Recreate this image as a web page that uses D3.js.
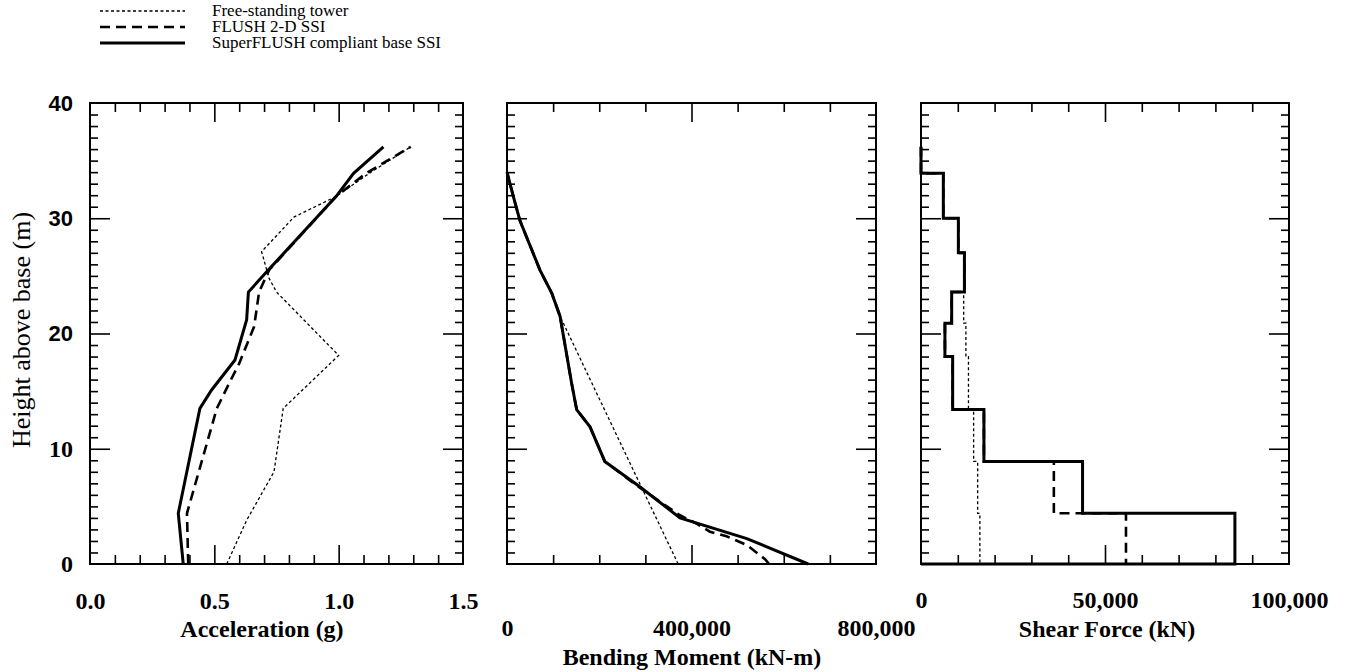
<!DOCTYPE html>
<meta charset="utf-8">
<style>
body { margin: 0; background: #fff; }
text { font-family: "Liberation Serif", "Times New Roman", serif; fill: #000; }
.frame { fill: none; stroke: #000; stroke-width: 2; }
.tick line { stroke: #000; stroke-width: 1.6; }
.domain { display: none; }
.ticklab text { font-size: 24px; font-weight: bold; }
.title { font-size: 24px; font-weight: bold; text-anchor: middle; }
.legend text { font-size: 17px; }
.free { fill: none; stroke: #000; stroke-width: 1.3; stroke-dasharray: 3,2.5; }
.flush { fill: none; stroke: #000; stroke-width: 2.6; stroke-dasharray: 10,6; }
.super { fill: none; stroke: #000; stroke-width: 3; }
</style>
<body>
<script src="https://cdnjs.cloudflare.com/ajax/libs/d3/7.8.5/d3.min.js"></script>
<script>
// acceleration profiles (height m, acceleration g)
var accSuperH = [0, 4.4, 13.5, 15.1, 17.7, 21.2, 23.6, 25.5, 31.9, 33.9, 36.2];
var accSuper  = [0.375, 0.355, 0.442, 0.489, 0.583, 0.630, 0.637, 0.717, 0.990, 1.06, 1.18];
var accFlushH = [0, 4.4, 8.2, 13.5, 15.7, 17.4, 20.6, 23.6, 25.5, 31.9, 33.9, 36.2];
var accFlush  = [0.395, 0.39, 0.44, 0.51, 0.56, 0.60, 0.66, 0.68, 0.72, 0.99, 1.11, 1.29];
var accFreeH  = [0, 3.8, 8.0, 13.5, 18.1, 23.6, 24.8, 27.1, 30.1, 31.9, 34.0, 36.2];
var accFree   = [0.55, 0.63, 0.74, 0.777, 1.0, 0.75, 0.72, 0.69, 0.82, 0.99, 1.13, 1.29];

// bending moment profiles (kN-m)
var momSuperH = [0, 2.2, 4.0, 6.7, 8.9, 11.9, 13.4, 15.7, 21.5, 23.5, 25.5, 29.8, 31.9, 34.0];
var momSuper  = [653000, 520000, 375000, 288000, 212000, 180000, 151000, 140000, 115000, 97000, 71500, 28000, 13700, 0];
var momFlushH = [0, 0.4, 1.65, 2.4, 2.8, 3.5, 4.3, 6.7, 8.9, 11.9, 13.4, 15.7, 21.5, 23.5, 25.5, 29.8, 31.9, 34.0];
var momFlush  = [568000, 560000, 520000, 476000, 440000, 411000, 372000, 285000, 212000, 180000, 151000, 140000, 115000, 97000, 71500, 28000, 13700, 0];
var momFreeH  = [0, 12.5, 21.5, 23.5, 25.5, 29.8, 31.9, 34.0];
var momFree   = [371000, 222000, 115000, 97000, 71500, 28000, 13700, 0];

// shear force, constant between story levels (kN)
var shearLevels = [36.2, 33.9, 30.0, 27.0, 23.6, 20.9, 18.0, 13.4, 8.9, 4.4, 0];
var shearSuper  = [0, 6070, 10150, 11800, 8340, 6500, 8600, 17100, 43900, 85300];
var shearFlush  = [0, 6070, 10150, 11800, 8340, 6500, 8600, 17100, 36100, 55700];
var shearFree   = [0, 6070, 10150, 11800, 11600, 12200, 12900, 14300, 15400, 16000];

var accTicks = [0, 0.5, 1.0, 1.5];
var momTicks = [0, 400000, 800000];
var shearTicks = [0, 50000, 100000];
var heightTicks = [0, 10, 20, 30, 40];

var legendNames = ["Free-standing tower", "FLUSH 2-D SSI", "SuperFLUSH compliant base SSI"];
var legendClass = ["free", "flush", "super"];

var W = 1346, H = 672, plotTop = 103, plotBottom = 564;

var svg = d3.select("body").append("svg")
    .attr("width", W)
    .attr("height", H);

var y = d3.scaleLinear().domain([0, 40]).range([plotBottom, plotTop]);

var xAcc = d3.scaleLinear().domain([0, 1.5]).range([90, 463]);
var xMom = d3.scaleLinear().domain([0, 800000]).range([507, 876]);
var xShear = d3.scaleLinear().domain([0, 100000]).range([921, 1289]);

var hMinor = d3.range(1, 40).filter(function(d) { return d % 10 != 0; });
var hMajor = [10, 20, 30];

function frame(x, minor, major) {
  var x0 = x.range()[0], x1 = x.range()[1];
  var g = svg.append("g");
  g.append("g").attr("transform", "translate(0," + plotBottom + ")")
    .call(d3.axisBottom(x).tickValues(minor).tickSize(-9).tickFormat(""));
  g.append("g").attr("transform", "translate(0," + plotBottom + ")")
    .call(d3.axisBottom(x).tickValues(major).tickSize(-19).tickFormat(""));
  g.append("g").attr("transform", "translate(0," + plotTop + ")")
    .call(d3.axisTop(x).tickValues(minor).tickSize(-9).tickFormat(""));
  g.append("g").attr("transform", "translate(0," + plotTop + ")")
    .call(d3.axisTop(x).tickValues(major).tickSize(-19).tickFormat(""));
  g.append("g").attr("transform", "translate(" + x0 + ",0)")
    .call(d3.axisLeft(y).tickValues(hMinor).tickSize(-8).tickFormat(""));
  g.append("g").attr("transform", "translate(" + x0 + ",0)")
    .call(d3.axisLeft(y).tickValues(hMajor).tickSize(-20).tickFormat(""));
  g.append("g").attr("transform", "translate(" + x1 + ",0)")
    .call(d3.axisRight(y).tickValues(hMinor).tickSize(-8).tickFormat(""));
  g.append("g").attr("transform", "translate(" + x1 + ",0)")
    .call(d3.axisRight(y).tickValues(hMajor).tickSize(-20).tickFormat(""));
  g.append("rect").attr("class", "frame")
    .attr("x", x0).attr("y", plotTop)
    .attr("width", x1 - x0).attr("height", plotBottom - plotTop);
}

function xLabels(x, ticks, fmt, ypos) {
  svg.append("g").attr("class", "ticklab")
    .attr("transform", "translate(0," + ypos + ")")
    .call(d3.axisBottom(x).tickValues(ticks).tickSize(0).tickPadding(0).tickFormat(fmt));
}

function profile(x, hs, vs, cls) {
  var pts = hs.map(function(h, i) { return [vs[i], h]; });
  svg.append("path").datum(pts).attr("class", cls)
    .attr("d", d3.line().x(function(d) { return x(d[0]); }).y(function(d) { return y(d[1]); }));
}

function steps(x, vs, cls, closeBase) {
  var pts = [];
  vs.forEach(function(v, i) {
    pts.push([v, shearLevels[i]]);
    pts.push([v, shearLevels[i + 1]]);
  });
  if (closeBase) pts.push([0, 0]);
  svg.append("path").datum(pts).attr("class", cls)
    .attr("d", d3.line().x(function(d) { return x(d[0]); }).y(function(d) { return y(d[1]); }));
}

// panel 1: acceleration
frame(xAcc, d3.range(1, 15).filter(function(i) { return i % 5 != 0; }).map(function(i) { return i / 10; }), [0.5, 1.0]);
profile(xAcc, accFreeH, accFree, "free");
profile(xAcc, accFlushH, accFlush, "flush");
profile(xAcc, accSuperH, accSuper, "super");
xLabels(xAcc, accTicks, d3.format(".1f"), 592);
svg.append("text").attr("class", "title").attr("x", 262).attr("y", 637).text("Acceleration (g)");

// panel 2: bending moment
frame(xMom, [100000, 200000, 300000, 500000, 600000, 700000], [400000]);
profile(xMom, momFreeH, momFree, "free");
profile(xMom, momFlushH, momFlush, "flush");
profile(xMom, momSuperH, momSuper, "super");
xLabels(xMom, momTicks, d3.format(","), 619);
svg.append("text").attr("class", "title").attr("x", 692).attr("y", 665).text("Bending Moment (kN-m)");

// panel 3: shear force
frame(xShear, d3.range(1, 10).filter(function(i) { return i != 5; }).map(function(i) { return i * 10000; }), [50000]);
steps(xShear, shearFree, "free", false);
steps(xShear, shearFlush, "flush", false);
steps(xShear, shearSuper, "super", true);
xLabels(xShear, shearTicks, d3.format(","), 591);
svg.append("text").attr("class", "title").attr("x", 1107).attr("y", 637).text("Shear Force (kN)");

// height labels on the first panel only
var yl = svg.append("g").attr("class", "ticklab")
    .attr("transform", "translate(73,0)")
    .call(d3.axisLeft(y).tickValues(heightTicks).tickSize(0).tickPadding(0));
yl.selectAll("text").filter(function(d) { return d >= 20; })
    .style("font-family", "'Liberation Sans', Arial, sans-serif")
    .style("font-size", "22px");

svg.append("text").attr("class", "title")
    .attr("transform", "translate(30,330)rotate(-90)")
    .style("font-weight", "normal")
    .style("font-size", "26px")
    .text("Height above base (m)");

// legend
var leg = svg.append("g").attr("class", "legend");
legendNames.forEach(function(name, i) {
  var ly = 11 + i * 16;
  leg.append("line").attr("class", legendClass[i])
    .attr("x1", 100).attr("x2", 185).attr("y1", ly).attr("y2", ly);
  leg.append("text").attr("x", 212).attr("y", ly + 5).text(name);
});
</script>
</body>
